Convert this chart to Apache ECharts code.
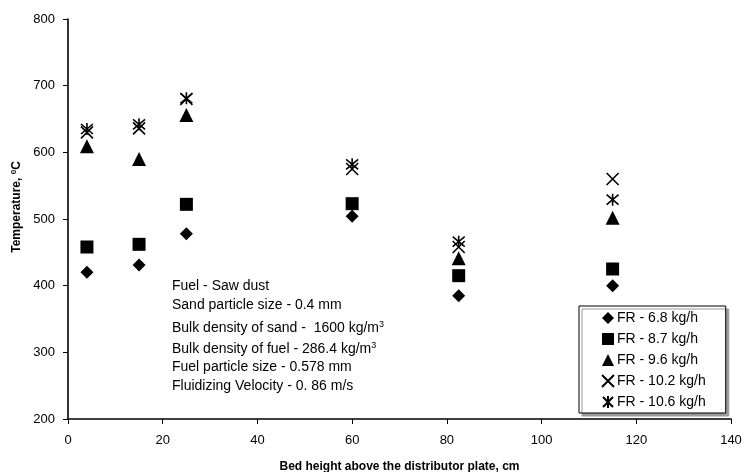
<!DOCTYPE html>
<html>
<head>
<meta charset="utf-8">
<script src="https://cdn.jsdelivr.net/npm/echarts@6/dist/echarts.min.js"></script>
<style>
  html, body { margin: 0; padding: 0; background: #fff; }
  #chart { width: 744px; height: 472px; }
</style>
</head>
<body>
<div id="chart"></div>
<script>
// bed heights (cm) and temperatures (deg C) per feed rate
var heights = [4, 15, 25, 60, 82.5, 115];
var fr68  = [420, 431, 478, 504, 385, 400];
var fr87  = [458, 462, 522, 523, 415, 425];
var fr96  = [609, 590, 656, null, 441, 502];
var fr102 = [630, 636, 680, 575, 458, 560];
var fr106 = [635, 642, 681, 582, 466, 529];
var seriesNames = ['FR - 6.8 kg/h', 'FR - 8.7 kg/h', 'FR - 9.6 kg/h', 'FR - 10.2 kg/h', 'FR - 10.6 kg/h'];

var notes = [
  ['Fuel - Saw dust', 287],
  ['Sand particle size - 0.4 mm', 306],
  ['Bulk density of sand -  1600 kg/m{sup|3}', 328],
  ['Bulk density of fuel - 286.4 kg/m{sup|3}', 349],
  ['Fuel particle size - 0.578 mm', 368],
  ['Fluidizing Velocity - 0. 86 m/s', 387]
];

var FONT = '"Liberation Sans", Arial, sans-serif';
var crossPath = 'path://M0 0L10 10M10 0L0 10';
var starPath = 'path://M0 0L10 10M10 0L0 10M5 -1L5 11';

function pairs(ys) {
  return heights.map(function (h, i) { return ys[i] == null ? null : [h, ys[i]]; })
    .filter(function (p) { return p; });
}

function mkSeries(name, ys, symbol, size, stroke) {
  return {
    name: name,
    type: 'scatter',
    data: pairs(ys),
    symbol: symbol,
    symbolSize: size,
    itemStyle: stroke
      ? { color: 'rgba(0,0,0,0)', borderColor: '#000', borderWidth: 1.6, opacity: 1 }
      : { color: '#000', opacity: 1 },
    emphasis: { disabled: true }
  };
}

var chart = echarts.init(document.getElementById('chart'));
var option = {
  backgroundColor: '#fff',
  animation: false,
  textStyle: { fontFamily: FONT },
  grid: { left: 68, right: 13, top: 19, bottom: 53, containLabel: false, outerBoundsMode: 'none' },
  xAxis: {
    type: 'value',
    min: 0, max: 140, interval: 20,
    name: 'Bed height above the distributor plate, cm',
    nameLocation: 'middle',
    nameGap: 42,
    nameTextStyle: { fontFamily: FONT, fontWeight: 'bold', fontSize: 12, color: '#000' },
    axisLine: { lineStyle: { color: '#000', width: 1.6 } },
    axisTick: { inside: false, length: 5, lineStyle: { color: '#000' } },
    axisLabel: { fontFamily: FONT, fontSize: 13, color: '#000', margin: 15 },
    splitLine: { show: false }
  },
  yAxis: {
    type: 'value',
    min: 200, max: 800, interval: 100,
    name: 'Temperature, {sup|0}C',
    nameLocation: 'middle',
    nameGap: 42,
    nameRotate: 90,
    nameTextStyle: {
      fontFamily: FONT, fontWeight: 'bold', fontSize: 12, color: '#000',
      padding: [0, 0, 0, 24],
      rich: { sup: { fontFamily: FONT, fontWeight: 'bold', fontSize: 8, verticalAlign: 'top', color: '#000', padding: [0, 0, 6, 0] } }
    },
    axisLine: { show: true, lineStyle: { color: '#000', width: 1.6 } },
    axisTick: { show: true, inside: false, length: 5, lineStyle: { color: '#000' } },
    axisLabel: { fontFamily: FONT, fontSize: 13, color: '#000', margin: 13 },
    splitLine: { show: false }
  },
  legend: {
    orient: 'vertical',
    left: 579,
    top: 306,
    padding: [5, 20, 4, 22],
    itemGap: 7,
    itemWidth: 12,
    itemHeight: 12,
    backgroundColor: '#fff',
    borderColor: '#000',
    borderWidth: 1,
    shadowColor: '#9a9a9a',
    shadowOffsetX: 3,
    shadowOffsetY: 3,
    shadowBlur: 0,
    textStyle: { fontFamily: FONT, fontSize: 14, color: '#000', padding: [0, 0, 0, -2] },
    data: seriesNames
  },
  graphic: notes.map(function (n) {
    return {
      type: 'text',
      left: 172,
      top: n[1] - 8,
      style: {
        text: n[0],
        fontFamily: FONT,
        fontSize: 14,
        fill: '#000',
        rich: { sup: { fontFamily: FONT, fontSize: 9, verticalAlign: 'top', padding: [0, 0, 8, 0], fill: '#000' } }
      }
    };
  }),
  series: [
    mkSeries(seriesNames[0], fr68, 'diamond', 13, false),
    mkSeries(seriesNames[1], fr87, 'rect', 13, false),
    mkSeries(seriesNames[2], fr96, 'triangle', 14, false),
    mkSeries(seriesNames[3], fr102, crossPath, 12, true),
    mkSeries(seriesNames[4], fr106, starPath, 12, true)
  ]
};
chart.setOption(option);
</script>
</body>
</html>
